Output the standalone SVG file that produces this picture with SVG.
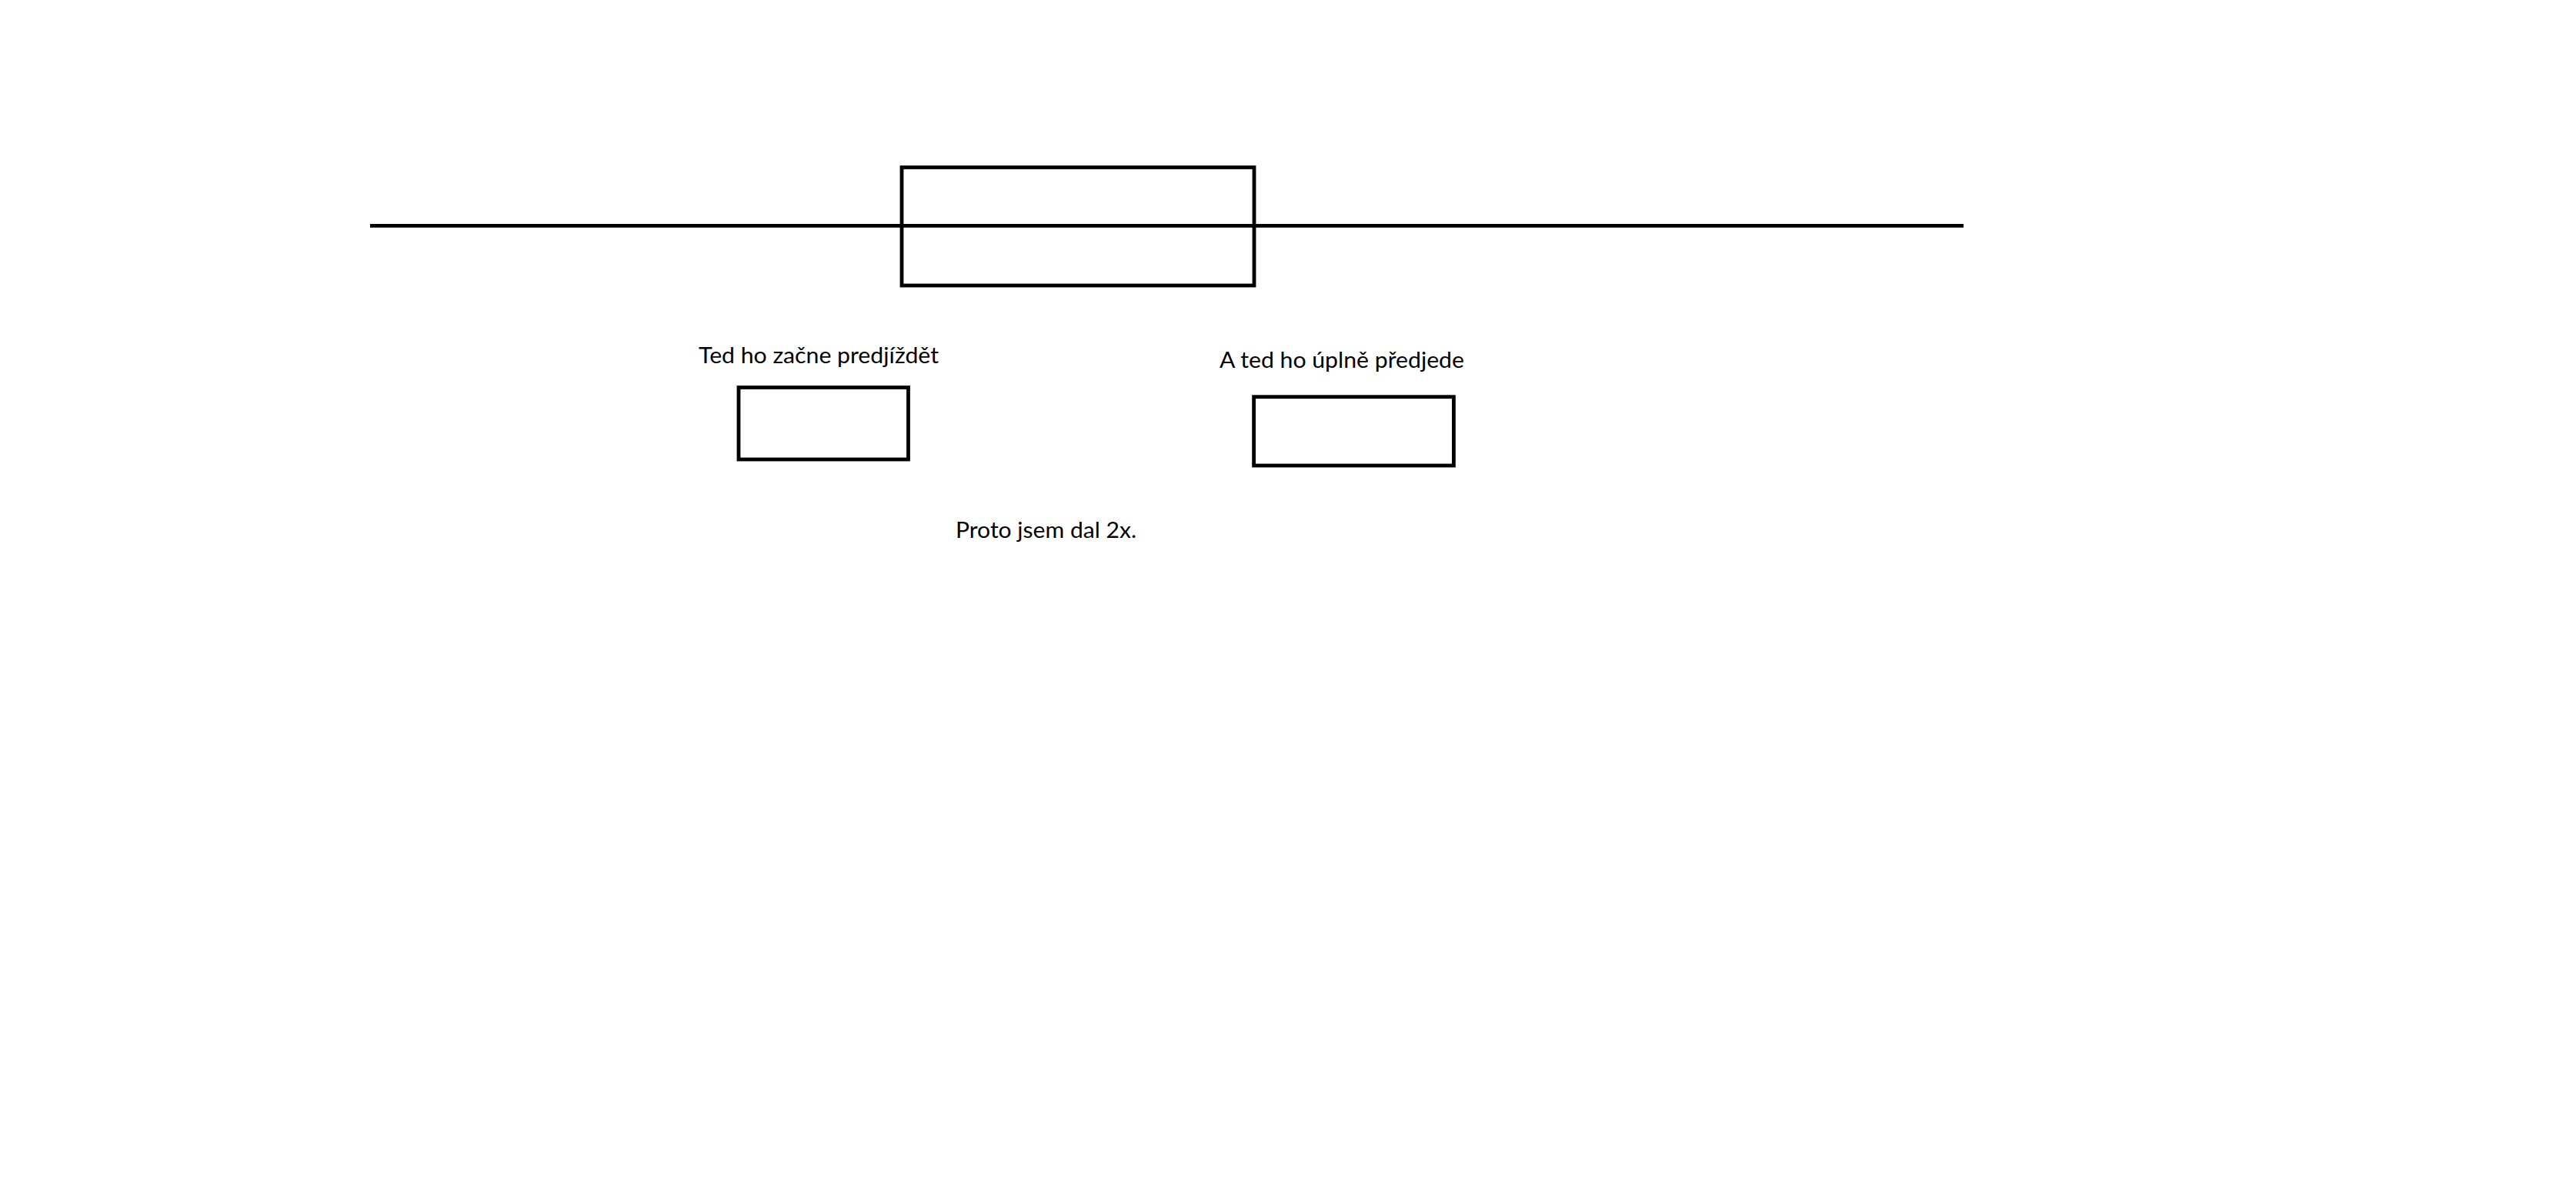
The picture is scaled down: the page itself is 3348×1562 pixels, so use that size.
<svg xmlns="http://www.w3.org/2000/svg" width="3348" height="1562" viewBox="0 0 3348 1562">
  <style>
    .shape { fill: none; stroke: #000000; stroke-width: 4.8; }
    .label { font-family: Lato, "Liberation Sans", sans-serif; font-size: 28px; fill: #000000; }
  </style>
  <rect x="0" y="0" width="3348" height="1562" fill="#ffffff"/>
  <g id="connectors">
    <line class="shape" x1="481" y1="293.3" x2="2552" y2="293.3"/>
  </g>
  <g id="main-box">
    <rect class="shape" x="1172" y="217.5" width="458" height="153.5"/>
  </g>
  <g id="box-left">
    <rect class="shape" x="960" y="503.5" width="220.5" height="93.5"/>
    <text class="label" x="908" y="472" textLength="312" lengthAdjust="spacingAndGlyphs">Ted ho začne predjíždět</text>
  </g>
  <g id="box-right">
    <rect class="shape" x="1629.6" y="515.7" width="259.8" height="89.3"/>
    <text class="label" x="1585" y="477.5" textLength="318" lengthAdjust="spacingAndGlyphs">A ted ho úplně předjede</text>
  </g>
  <g id="note">
    <text class="label" x="1242" y="699" textLength="235" lengthAdjust="spacingAndGlyphs">Proto jsem dal 2x.</text>
  </g>
</svg>
